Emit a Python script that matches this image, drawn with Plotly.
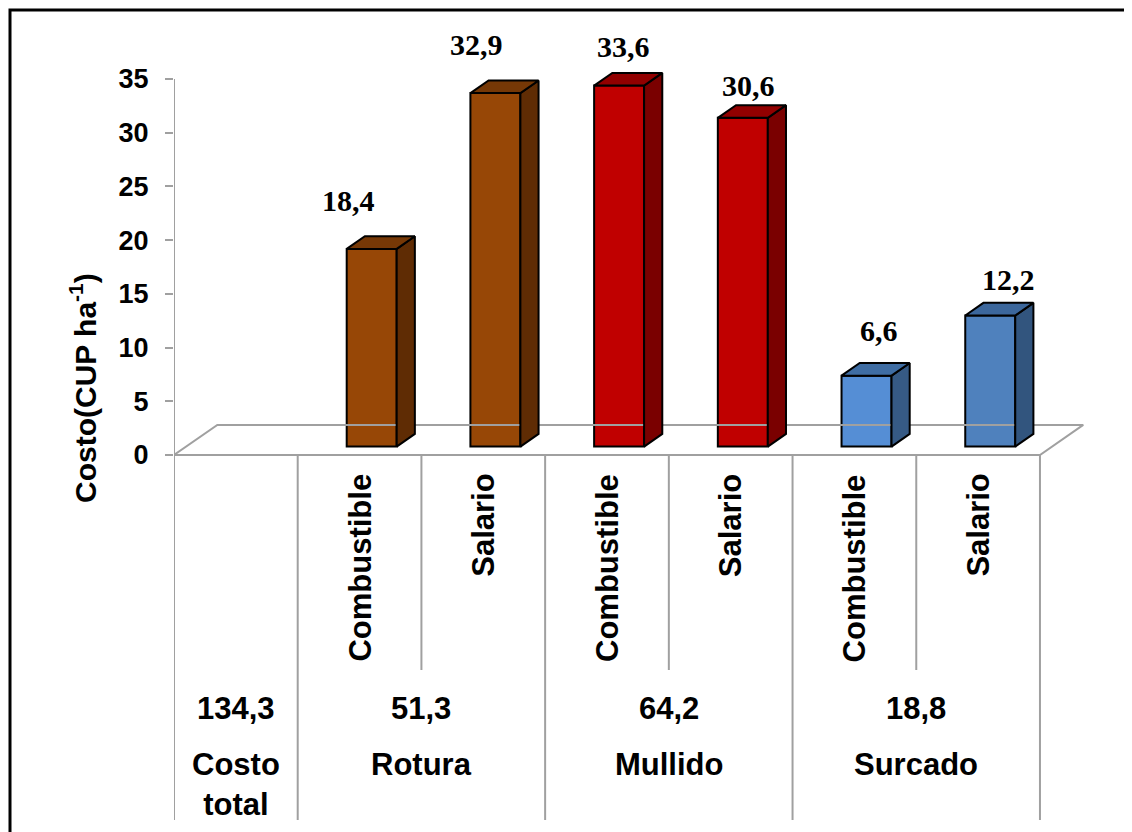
import plotly.graph_objects as go

# ---------------- data ----------------
GROUPS = ["Costo total", "Rotura", "Mullido", "Surcado"]
GROUP_TOTALS = [134.3, 51.3, 64.2, 18.8]
COMPONENTS = ["Combustible", "Salario"]
ROTURA = [18.4, 32.9]
MULLIDO = [33.6, 30.6]
SURCADO = [6.6, 12.2]
Y_TICKS = [0, 5, 10, 15, 20, 25, 30, 35]

# ---------------- styles ----------------
FRONT = ["#974706", "#974706", "#C00000", "#C00000", "#558ED5", "#4F81BD"]
TOP = ["#763806", "#763806", "#920000", "#920000", "#3F6DA3", "#3C679C"]
SIDE = ["#5F2C04", "#5F2C04", "#7A0000", "#7A0000", "#365A85", "#32557E"]
# perspective nudges of the value labels (px): horizontal, vertical lift
LABEL_DX = [-23, -19, 4, 6, 12, 18]
LABEL_LIFT = [17, 17, 8, 1, 14, 5]
GRAY = "#A0A0A0"
SANS = "Liberation Sans, Arial, sans-serif"
SERIF = "Liberation Serif, Times New Roman, serif"

FIG_W, FIG_H = 1132, 832
OFF = 8                   # page body margin
AXIS_X_PX, ZERO_Y_PX = 174 - OFF, 455 - OFF
CAT_W_PX, Y_PX = 123.71, 10.744
DX, DY = 0.35, 2.8        # floor depth projection (axis units)
Z0, Z1 = 0.28, 0.70       # bar depth span
HALF = 0.202              # half bar width (category units)


def py(px):
    """y value for a pixel row of the reference picture"""
    return (ZERO_Y_PX - (px - OFF)) / Y_PX


xr = [-0.5, -0.5 + (FIG_W - AXIS_X_PX) / CAT_W_PX]
yr = [(ZERO_Y_PX - FIG_H) / Y_PX, ZERO_Y_PX / Y_PX]
n_cat = 1 + 2 * (len(GROUPS) - 1)

values = ROTURA + MULLIDO + SURCADO
cats = list(range(1, n_cat))

fig = go.Figure()

# floor
fig.add_trace(go.Scatter(
    x=[-0.5, -0.5 + DX, n_cat - 0.5 + DX, n_cat - 0.5, -0.5],
    y=[0, DY, DY, 0, 0], mode="lines",
    line=dict(color=GRAY, width=2), hoverinfo="skip", showlegend=False))

# y axis line continuing down as the table's left border
fig.add_trace(go.Scatter(
    x=[-0.5, -0.5], y=[max(Y_TICKS), py(820)], mode="lines",
    line=dict(color=GRAY, width=2), hoverinfo="skip", showlegend=False))

# table dividers
for k in range(1, n_cat + 1):
    b = k - 0.5
    full = (k % 2 == 1)
    fig.add_trace(go.Scatter(
        x=[b, b], y=[0, py(820) if full else py(670)], mode="lines",
        line=dict(color=GRAY, width=2), hoverinfo="skip", showlegend=False))

# bars: front faces via go.Bar, side and top faces as polygons
base = Z0 * DY
d = Z1 - Z0
for i, (c, v) in enumerate(zip(cats, values)):
    xl = c - HALF + Z0 * DX
    xrt = c + HALF + Z0 * DX
    fig.add_trace(go.Bar(
        x=[c + Z0 * DX], y=[v], base=[base], width=[2 * HALF],
        marker=dict(color=FRONT[i], line=dict(color="black", width=2)),
        hoverinfo="skip", showlegend=False))
    # side
    fig.add_trace(go.Scatter(
        x=[xrt, xrt + d * DX, xrt + d * DX, xrt, xrt],
        y=[base, base + d * DY, base + v + d * DY, base + v, base],
        mode="lines", fill="toself", fillcolor=SIDE[i],
        line=dict(color="black", width=2), hoverinfo="skip", showlegend=False))
    # top
    fig.add_trace(go.Scatter(
        x=[xl, xl + d * DX, xrt + d * DX, xrt, xl],
        y=[base + v, base + v + d * DY, base + v + d * DY, base + v, base + v],
        mode="lines", fill="toself", fillcolor=TOP[i],
        line=dict(color="black", width=2), hoverinfo="skip", showlegend=False))

annotations = []
# value labels
for i, (c, v) in enumerate(zip(cats, values)):
    annotations.append(dict(
        x=c + Z0 * DX, y=v + Z1 * DY, xref="x", yref="y",
        text=f"{v:.1f}".replace(".", ","), showarrow=False,
        xanchor="center", yanchor="bottom",
        xshift=LABEL_DX[i], yshift=LABEL_LIFT[i],
        font=dict(family=SERIF, size=30, color="black", weight="bold")))

# component labels (rotated)
for c in cats:
    annotations.append(dict(
        x=c, y=py(472), xref="x", yref="y", text=COMPONENTS[(c - 1) % 2],
        textangle=-90, showarrow=False, xanchor="center", yanchor="top",
        font=dict(family=SANS, size=31, color="black", weight="bold")))

# group totals and names
for g, (name, tot) in enumerate(zip(GROUPS, GROUP_TOTALS)):
    gx = 0 if g == 0 else 2 * g - 0.5
    annotations.append(dict(
        x=gx, y=py(708), xref="x", yref="y",
        text=f"{tot:.1f}".replace(".", ","), showarrow=False,
        xanchor="center", yanchor="middle",
        font=dict(family=SANS, size=31, color="black", weight="bold")))
    label = name.replace(" ", "<br>") if g == 0 else name
    annotations.append(dict(
        x=gx, y=py(745), xref="x", yref="y", text=label, showarrow=False,
        xanchor="center", yanchor="top",
        font=dict(family=SANS, size=31, color="black", weight="bold")))

# y axis title
annotations.append(dict(
    x=(83 - OFF) / FIG_W, y=1 - (388 - OFF) / FIG_H, xref="paper", yref="paper",
    text="Costo(CUP ha<sup>-1</sup>)", textangle=-90, showarrow=False,
    xanchor="center", yanchor="middle",
    font=dict(family=SANS, size=30, color="black", weight="bold")))

fig.update_layout(
    width=FIG_W, height=FIG_H,
    margin=dict(l=0, r=0, t=0, b=0),
    paper_bgcolor="white", plot_bgcolor="white",
    barmode="overlay", showlegend=False,
    xaxis=dict(domain=[AXIS_X_PX / FIG_W, 1], range=xr, visible=False,
               fixedrange=True),
    yaxis=dict(range=yr, tickvals=Y_TICKS, ticktext=[str(t) for t in Y_TICKS],
               showgrid=False, zeroline=False, showline=False,
               ticks="outside", ticklen=8, tickwidth=2, tickcolor=GRAY,
               ticklabelstandoff=11,
               tickfont=dict(family=SANS, size=27, color="black", weight="bold"),
               fixedrange=True),
    annotations=annotations,
    shapes=[dict(type="rect", xref="paper", yref="paper",
                 x0=(10 - OFF) / FIG_W, x1=1.05, y0=-0.05,
                 y1=1 - (10 - OFF) / FIG_H,
                 line=dict(color="black", width=3), layer="above")],
)

fig.write_html("out.html")
